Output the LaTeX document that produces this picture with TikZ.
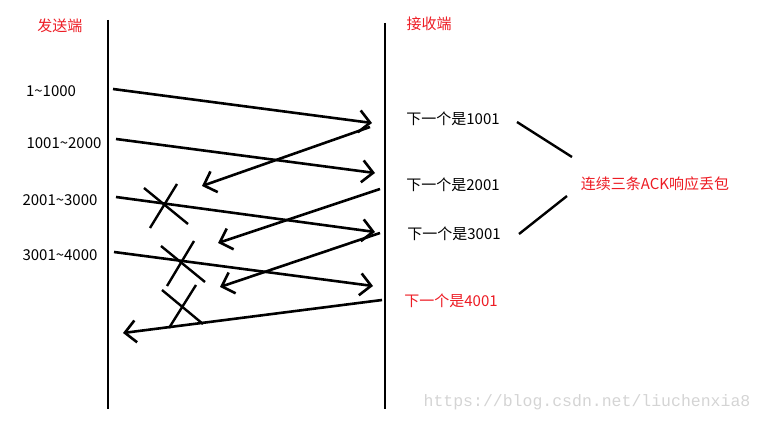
\documentclass[tikz,border=0pt]{standalone}
\usepackage{fontspec}
\setmainfont{Noto Sans CJK SC}
\newfontfamily\wmfont{Liberation Mono}
\usetikzlibrary{arrows.meta}
\definecolor{pntred}{RGB}{237,28,36}
\definecolor{wmgray}{RGB}{212,212,212}

\begin{document}
\begin{tikzpicture}[x=1pt, y=-1pt,
    wire/.style={line width=2.8pt},
    msg/.style={line width=2.6pt,
      -{Straight Barb[length=11pt, width=22pt]}},
    lost/.style={line width=2.4pt},
    lbl/.style={font=\fontsize{15}{18}\selectfont, inner sep=0pt},
    redlbl/.style={lbl, text=pntred}]
  \useasboundingbox (0,0) rectangle (764,422);

  % the two ends
  \coordinate (sTop) at (108,20);  \coordinate (sBot) at (108,409);
  \coordinate (rTop) at (385,23);  \coordinate (rBot) at (385,409);
  \draw[wire] (sTop) -- (sBot);
  \draw[wire] (rTop) -- (rBot);
  \node[redlbl] (sender) at (60,26) {发送端};
  \node[redlbl] (receiver) at (429,24) {接收端};

  % segments sent
  \node[lbl] (seg1) at (51,91) {1\char`~1000};
  \node[lbl] (seg2) at (64,143) {1001\char`~2000};
  \node[lbl] (seg3) at (60,200) {2001\char`~3000};
  \node[lbl] (seg4) at (60,255) {3001\char`~4000};

  % receiver answers
  \node[lbl] (ack1) at (453,119) {下一个是1001};
  \node[lbl] (ack2) at (453,185) {下一个是2001};
  \node[lbl] (ack3) at (454,234) {下一个是3001};
  \node[redlbl] (ack4) at (451,301) {下一个是4001};
  \node[redlbl] (note) at (655,184) {连续三条ACK响应丢包};

  % data going out
  \coordinate (d1s) at (113,89);  \coordinate (d1e) at (372,123);
  \coordinate (d2s) at (116,139); \coordinate (d2e) at (375,173);
  \coordinate (d3s) at (116,197); \coordinate (d3e) at (375,232);
  \coordinate (d4s) at (114,252); \coordinate (d4e) at (373,286);
  \draw[msg] (d1s) -- (d1e);
  \draw[msg] (d2s) -- (d2e);
  \draw[msg] (d3s) -- (d3e);
  \draw[msg] (d4s) -- (d4e);

  % acks coming back
  \coordinate (a1s) at (370,127); \coordinate (a1e) at (202,186);
  \coordinate (a2s) at (380,189); \coordinate (a2e) at (218,243);
  \coordinate (a3s) at (380,233); \coordinate (a3e) at (220,287);
  \coordinate (a4s) at (382,300); \coordinate (a4e) at (123,333);
  \draw[msg] (a1s) -- (a1e);
  \draw[msg] (a2s) -- (a2e);
  \draw[msg] (a3s) -- (a3e);
  \draw[msg] (a4s) -- (a4e);

  % lost marks
  \draw[lost] (144,188) -- (188,224);
  \draw[lost] (177,184) -- (150,228);
  \draw[lost] (161,246) -- (205,282);
  \draw[lost] (194,241) -- (167,286);
  \draw[lost] (162,290) -- (203,324);
  \draw[lost] (196,285) -- (169,328);

  % pointers to the note
  \coordinate (p1a) at (517,122); \coordinate (p1b) at (572,157);
  \coordinate (p2a) at (567,196); \coordinate (p2b) at (519,234);
  \draw[lost] (p1a) -- (p1b);
  \draw[lost] (p2a) -- (p2b);

  \node[inner sep=0pt, text=wmgray, font=\wmfont\fontsize{16.5}{18}\selectfont]
    (mark) at (587,402) {https://blog.csdn.net/liuchenxia8};
\end{tikzpicture}
\end{document}
